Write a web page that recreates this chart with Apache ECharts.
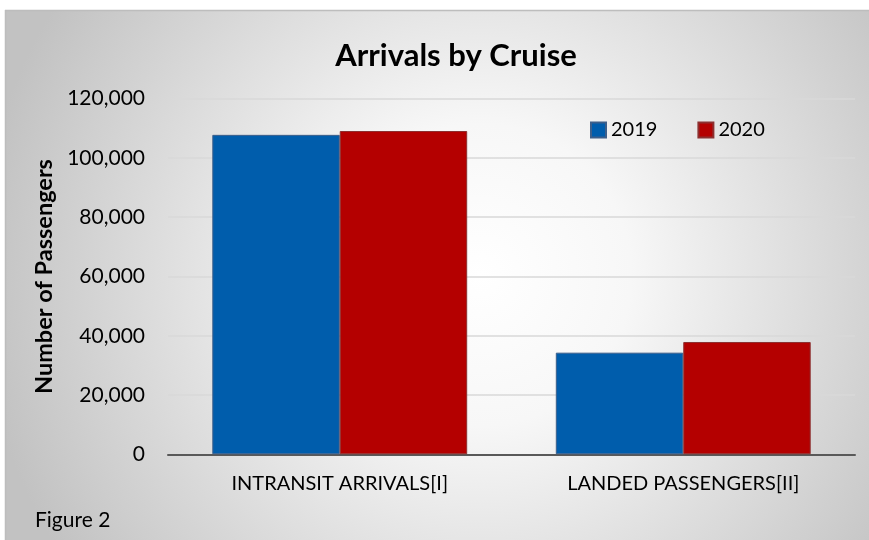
<!DOCTYPE html>
<html>
<head>
<meta charset="utf-8">
<script src="https://cdn.jsdelivr.net/npm/echarts@6/dist/echarts.min.js"></script>
<style>html,body{margin:0;padding:0;background:#fff}#c{width:869px;height:540px}</style>
</head>
<body>
<div id="c"></div>
<script>
var categories = ['INTRANSIT ARRIVALS[I]', 'LANDED PASSENGERS[II]'];
var seriesNames = ['2019', '2020'];
var values2019 = [107800, 34300];
var values2020 = [109100, 37900];
var yTicks = [0, 20000, 40000, 60000, 80000, 100000, 120000];

var FONT = 'Lato, "Open Sans", sans-serif';
var chart = echarts.init(document.getElementById('c'), null, {renderer: 'canvas'});
chart.setOption({
  animation: false,
  backgroundColor: '#ffffff',
  graphic: [
    {
      type: 'rect', z: -100, silent: true,
      shape: {x: 5, y: 10, width: 864, height: 530},
      style: {
        fill: new echarts.graphic.RadialGradient(0.55, 0.5, 0.95, [
          {offset: 0, color: '#ffffff'},
          {offset: 0.3, color: '#f7f7f7'},
          {offset: 1, color: '#c2c2c2'}
        ])
      }
    },
    {type: 'line', z: -99, silent: true, shape: {x1: 5, y1: 10.5, x2: 869, y2: 10.5}, style: {stroke: '#bdbdbd', lineWidth: 1.5}},
    {type: 'line', z: -99, silent: true, shape: {x1: 5.5, y1: 10, x2: 5.5, y2: 540}, style: {stroke: '#bdbdbd', lineWidth: 1.5}},
    {
      type: 'text', left: 35, top: 510,
      style: {text: 'Figure 2', fontFamily: FONT, fontSize: 21, fill: '#000'}
    }
  ],
  title: {
    text: 'Arrivals by Cruise',
    left: 456, top: 40, padding: 0,
    textAlign: 'center',
    textStyle: {fontFamily: FONT, fontSize: 31, fontWeight: 'bold', color: '#000'}
  },
  legend: {
    data: seriesNames,
    left: 590, top: 120, padding: 0,
    itemWidth: 15, itemHeight: 15, itemGap: 40,
    icon: 'rect',
    textStyle: {fontFamily: FONT, fontSize: 20, color: '#000'}
  },
  grid: {left: 168, right: 14, top: 98.7, bottom: 85.7, containLabel: false},
  xAxis: {
    type: 'category',
    data: categories,
    axisLine: {lineStyle: {color: '#595959', width: 2}},
    axisTick: {show: false},
    axisLabel: {fontFamily: FONT, fontSize: 20, color: '#000', margin: 19}
  },
  yAxis: {
    type: 'value',
    min: 0, max: 120000, interval: 20000,
    name: 'Number of Passengers',
    nameLocation: 'middle',
    nameGap: 100,
    nameTextStyle: {fontFamily: FONT, fontSize: 23.5, fontWeight: 'bold', color: '#000'},
    axisLine: {show: false},
    axisTick: {show: false},
    splitLine: {lineStyle: {color: '#d9d9d9', width: 1.5}},
    axisLabel: {
      fontFamily: FONT, fontSize: 21, color: '#000', margin: 23,
      formatter: function (v) { return yTicks.indexOf(v) >= 0 ? v.toLocaleString('en-US') : ''; }
    }
  },
  series: [
    {
      name: seriesNames[0], type: 'bar', data: values2019,
      barGap: '0%', barCategoryGap: '25.8%',
      itemStyle: {color: '#005dac', borderColor: '#3d5f8a', borderWidth: 1}
    },
    {
      name: seriesNames[1], type: 'bar', data: values2020,
      itemStyle: {color: '#b40000', borderColor: '#8c3030', borderWidth: 1}
    }
  ]
});
</script>
</body>
</html>
